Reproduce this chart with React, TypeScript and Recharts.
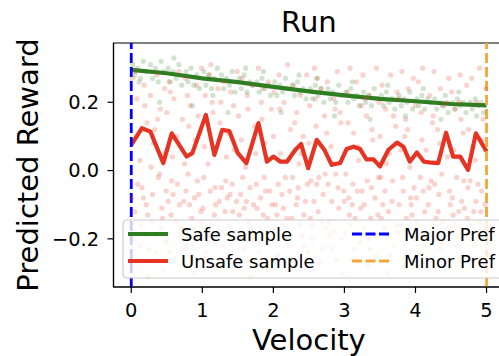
import React from 'react';
import {
  ComposedChart,
  XAxis,
  YAxis,
  Line,
  Scatter,
  ReferenceLine,
  ReferenceArea,
  Legend,
  Label,
} from 'recharts';

const FONT = '"DejaVu Sans", Verdana, sans-serif';

const TITLE = 'Run';
const X_LABEL = 'Velocity';
const Y_LABEL = 'Predicted Reward';
const SAFE_NAME = 'Safe sample';
const UNSAFE_NAME = 'Unsafe sample';
const MAJOR_NAME = 'Major Pref';
const MINOR_NAME = 'Minor Pref';

const xTicks = [0, 1, 2, 3, 4, 5];
const yTicks = [-0.2, 0, 0.2];
const xDomain = [-0.25, 5.25];
const yDomain = [-0.341, 0.3736];
const majorPrefX = 0;
const minorPrefX = 5;

const GREEN = '#2f7f22';
const RED = '#e63322';
const BLUE = '#0000ff';
const ORANGE = '#f2a73b';

// Safe sample mean line (velocity, reward)
const safeV = [0, 0.5, 1.0, 1.5, 2.0, 2.5, 3.0, 3.5, 4.0, 4.5, 5.0];
const safeR = [0.295, 0.285, 0.27, 0.259, 0.245, 0.232, 0.22, 0.21, 0.203, 0.195, 0.191];

// Unsafe sample mean line (velocity, reward)
const unsafeV = [
  0.0, 0.15, 0.27, 0.45, 0.57, 0.78, 0.86, 1.05, 1.17, 1.28, 1.38, 1.5, 1.62, 1.79, 1.91,
  2.0, 2.1, 2.19, 2.31, 2.39, 2.49, 2.61, 2.72, 2.82, 2.94, 3.03, 3.13, 3.22, 3.31, 3.41,
  3.5, 3.62, 3.74, 3.83, 3.92, 4.02, 4.12, 4.23, 4.32, 4.43, 4.53, 4.63, 4.74, 4.85, 5.0,
];
const unsafeR = [
  0.075, 0.124, 0.114, 0.022, 0.109, 0.041, 0.051, 0.163, 0.046, 0.119, 0.116, 0.051, 0.022, 0.139, 0.026,
  0.041, 0.026, 0.026, 0.061, 0.078, 0.007, 0.09, 0.06, 0.017, 0.022, 0.063, 0.07, 0.063, 0.033, 0.033,
  0.012, 0.061, 0.082, 0.07, 0.026, 0.053, 0.026, 0.023, 0.022, 0.111, 0.041, 0.041, 0.002, 0.109, 0.056,
];

// Unsafe sample scatter points [velocity, reward]
const unsafePoints: [number, number][] = [
  [0.02,0.27],[0.05,-0.12],[0.08,0.21],[0.1,-0.27],[0.12,0.03],[0.15,-0.05],[0.18,0.25],[0.2,-0.19],[0.22,0.14],[0.24,-0.31],[0.06,0.29],[0.17,-0.08],
  [0.27,0.22],[0.29,-0.15],[0.31,0.08],[0.34,-0.24],[0.36,0.28],[0.38,-0.02],[0.41,0.18],[0.43,-0.11],[0.45,-0.29],[0.47,0.24],[0.49,-0.06],[0.33,0.12],
  [0.51,-0.2],[0.53,0.26],[0.56,-0.13],[0.58,0.04],[0.6,0.21],[0.62,-0.26],[0.65,-0.04],[0.67,0.29],[0.7,-0.17],[0.72,0.15],[0.74,-0.09],[0.55,0.23],
  [0.76,0.27],[0.78,-0.22],[0.8,-0.01],[0.83,0.19],[0.85,-0.14],[0.87,-0.3],[0.9,0.09],[0.92,0.25],[0.95,-0.07],[0.97,-0.19],[0.99,0.3],[0.81,0.13],
  [1.01,-0.11],[1.04,0.22],[1.06,-0.24],[1.08,0.02],[1.1,0.28],[1.13,-0.16],[1.15,0.17],[1.18,-0.05],[1.2,-0.28],[1.22,0.24],[1.24,-0.09],[1.12,0.31],
  [1.26,0.2],[1.29,-0.18],[1.31,0.26],[1.33,-0.03],[1.36,0.11],[1.38,-0.25],[1.4,0.23],[1.43,-0.12],[1.45,0.06],[1.47,-0.2],[1.49,0.29],[1.35,-0.08],
  [1.51,0.16],[1.54,-0.07],[1.56,0.27],[1.58,-0.23],[1.61,0.01],[1.63,0.22],[1.65,-0.15],[1.68,-0.31],[1.7,0.25],[1.72,-0.1],[1.74,0.13],[1.6,-0.19],
  [1.76,-0.04],[1.79,0.3],[1.81,-0.21],[1.83,0.2],[1.86,-0.13],[1.88,0.08],[1.9,-0.27],[1.93,0.26],[1.95,-0.06],[1.97,0.18],[1.99,-0.17],[1.85,0.24],
  [2.01,0.23],[2.03,-0.1],[2.06,-0.25],[2.08,0.28],[2.1,0.05],[2.13,-0.16],[2.15,0.2],[2.17,-0.02],[2.2,0.31],[2.22,-0.22],[2.24,0.12],[2.12,-0.07],
  [2.26,-0.14],[2.28,0.25],[2.31,-0.29],[2.33,0.17],[2.35,-0.05],[2.38,0.22],[2.4,-0.19],[2.42,0.1],[2.45,-0.09],[2.47,0.28],[2.49,-0.24],[2.36,0.02],
  [2.51,0.19],[2.53,-0.03],[2.56,-0.2],[2.58,0.3],[2.6,0.13],[2.63,-0.12],[2.65,-0.27],[2.67,0.24],[2.7,-0.07],[2.72,0.16],[2.74,-0.17],[2.62,0.27],
  [2.76,0.26],[2.78,-0.15],[2.81,0.07],[2.83,-0.23],[2.85,0.21],[2.88,-0.01],[2.9,0.29],[2.92,-0.11],[2.95,0.14],[2.97,-0.3],[2.99,-0.06],[2.87,0.18],
  [3.01,-0.18],[3.04,0.23],[3.06,-0.08],[3.08,0.3],[3.1,-0.26],[3.13,0.11],[3.15,-0.14],[3.17,0.26],[3.2,0.03],[3.22,-0.21],[3.24,0.19],[3.12,-0.04],
  [3.26,0.28],[3.28,-0.1],[3.31,0.16],[3.33,-0.28],[3.35,0.22],[3.38,-0.05],[3.4,0.09],[3.42,-0.19],[3.45,0.3],[3.47,-0.13],[3.49,0.2],[3.36,-0.23],
  [3.51,-0.02],[3.53,0.25],[3.56,-0.17],[3.58,0.18],[3.6,-0.3],[3.63,0.05],[3.65,0.28],[3.67,-0.09],[3.7,-0.22],[3.72,0.13],[3.74,0.23],[3.62,-0.12],
  [3.76,0.21],[3.79,-0.16],[3.81,0.29],[3.83,-0.06],[3.86,0.15],[3.88,-0.25],[3.9,0.24],[3.92,0.01],[3.95,-0.13],[3.97,0.27],[3.99,-0.2],[3.85,0.1],
  [4.01,-0.08],[4.04,0.26],[4.06,-0.24],[4.08,0.17],[4.1,0.3],[4.13,-0.12],[4.15,0.06],[4.17,-0.29],[4.2,0.22],[4.22,-0.03],[4.24,0.14],[4.12,-0.18],
  [4.26,0.29],[4.28,-0.2],[4.31,0.12],[4.33,-0.07],[4.35,0.24],[4.38,-0.15],[4.4,0.19],[4.42,-0.27],[4.45,0.04],[4.47,0.27],[4.49,-0.1],[4.36,-0.23],
  [4.51,0.23],[4.53,-0.13],[4.56,0.18],[4.58,-0.02],[4.6,-0.26],[4.63,0.28],[4.65,-0.09],[4.67,0.11],[4.7,-0.19],[4.72,0.25],[4.74,-0.05],[4.62,0.2],
  [4.76,-0.16],[4.79,0.27],[4.81,0.07],[4.83,-0.22],[4.86,0.2],[4.88,-0.04],[4.9,0.3],[4.92,-0.12],[4.95,0.15],[4.97,-0.28],[4.99,0.24],[4.85,-0.09],
  [0.03,-0.2],[0.09,-0.04],[0.14,-0.16],[0.21,-0.1],[0.25,-0.23],
  [0.3,-0.07],[0.35,-0.19],[0.4,-0.01],[0.44,-0.14],[0.48,-0.21],
  [0.52,-0.09],[0.57,-0.03],[0.63,-0.15],[0.68,-0.1],[0.73,-0.23],
  [0.77,-0.06],[0.82,-0.1],[0.88,-0.17],[0.93,-0.03],[0.98,-0.12],
  [1.02,-0.02],[1.07,-0.19],[1.11,-0.06],[1.17,-0.13],[1.23,-0.18],
  [1.27,-0.05],[1.32,-0.12],[1.37,-0.16],[1.42,-0.04],[1.48,-0.09],
  [1.52,-0.13],[1.57,-0.02],[1.62,-0.09],[1.67,-0.05],[1.73,-0.2],
  [1.77,-0.11],[1.82,-0.08],[1.87,-0.02],[1.92,-0.14],[1.98,-0.1],
  [2.02,-0.18],[2.07,-0.04],[2.14,-0.11],[2.19,-0.14],[2.23,-0.06],
  [2.27,-0.02],[2.32,-0.1],[2.37,-0.16],[2.43,-0.13],[2.48,-0.04],
  [2.52,-0.14],[2.57,-0.09],[2.61,-0.04],[2.68,-0.15],[2.73,-0.01],
  [2.77,-0.04],[2.82,-0.09],[2.86,-0.18],[2.91,-0.05],[2.96,-0.2],
  [3.02,-0.01],[3.07,-0.13],[3.11,-0.1],[3.18,-0.06],[3.23,-0.11],
  [3.27,-0.17],[3.32,-0.03],[3.37,-0.14],[3.43,-0.08],[3.48,-0.02],
  [3.52,-0.14],[3.57,-0.06],[3.61,-0.19],[3.68,-0.03],[3.73,-0.16],
  [3.77,-0.1],[3.82,-0.02],[3.87,-0.14],[3.93,-0.08],[3.98,-0.05],
  [4.02,-0.15],[4.07,-0.02],[4.11,-0.06],[4.18,-0.1],[4.23,-0.16],
  [4.27,-0.04],[4.32,-0.12],[4.37,-0.01],[4.43,-0.17],[4.48,-0.06],
  [4.52,-0.08],[4.57,-0.16],[4.61,-0.12],[4.68,-0.03],[4.73,-0.14],
  [4.77,-0.03],[4.82,-0.12],[4.87,-0.18],[4.93,-0.06],[4.98,-0.1],
  [0.01,-0.08],[0.07,0.1],[0.13,-0.22],[0.19,0.19],[0.23,-0.13],
  [0.28,0.01],[0.32,-0.27],[0.37,0.15],[0.42,-0.17],[0.46,0.05],
  [0.5,0.17],[0.54,-0.24],[0.59,-0.07],[0.64,0.1],[0.69,-0.19],
  [0.75,0.02],[0.79,0.22],[0.84,-0.25],[0.89,-0.08],[0.94,0.16],
  [1.0,-0.15],[1.03,0.07],[1.09,-0.21],[1.14,0.2],[1.19,-0.1],
  [1.25,0.14],[1.3,-0.22],[1.34,0.04],[1.39,-0.07],[1.44,0.19],
  [1.5,-0.26],[1.55,0.09],[1.59,-0.11],[1.64,0.18],[1.69,-0.17],
  [1.75,0.05],[1.8,-0.24],[1.84,0.15],[1.89,-0.06],[1.94,-0.29],
  [2.0,0.1],[2.05,-0.13],[2.09,0.18],[2.16,-0.27],[2.21,0.03],
  [2.25,-0.19],[2.3,0.14],[2.34,-0.08],[2.39,0.05],[2.44,-0.22],
  [2.5,0.08],[2.55,-0.16],[2.59,0.21],[2.64,-0.02],[2.69,-0.23],
  [2.75,0.11],[2.79,-0.19],[2.84,0.02],[2.89,-0.26],[2.94,0.17],
  [3.0,-0.09],[3.05,0.14],[3.09,-0.16],[3.14,-0.23],[3.19,0.07],
  [3.25,-0.06],[3.29,0.21],[3.34,-0.2],[3.39,0.12],[3.44,-0.25],
  [3.5,0.1],[3.54,-0.1],[3.59,0.02],[3.64,-0.25],[3.69,0.16],
  [3.75,-0.18],[3.8,0.06],[3.84,-0.28],[3.89,0.12],[3.94,-0.1],
  [4.0,0.19],[4.05,-0.19],[4.09,0.09],[4.14,-0.27],[4.19,-0.05],
  [4.25,0.16],[4.29,-0.14],[4.34,0.08],[4.39,-0.21],[4.44,0.2],
  [4.5,-0.17],[4.54,0.06],[4.59,-0.22],[4.64,0.15],[4.69,-0.11],
  [4.75,0.12],[4.8,-0.26],[4.84,0.03],[4.89,-0.15],[4.94,0.09],
];

// Safe sample scatter points [velocity, reward]
const safePoints: [number, number][] = [
  [0.02,0.31],[0.05,0.28],[0.09,0.3],[0.13,0.27],[0.17,0.32],[0.21,0.29],[0.11,0.26],
  [0.27,0.31],[0.3,0.27],[0.34,0.3],[0.38,0.26],[0.42,0.32],[0.46,0.29],[0.4,0.2],
  [0.52,0.3],[0.55,0.26],[0.59,0.29],[0.63,0.27],[0.67,0.31],[0.71,0.25],[0.6,0.33],
  [0.77,0.29],[0.8,0.26],[0.84,0.3],[0.88,0.25],[0.92,0.28],[0.96,0.24],[0.86,0.19],
  [1.02,0.29],[1.05,0.25],[1.09,0.28],[1.13,0.24],[1.17,0.27],[1.21,0.3],[1.15,0.22],
  [1.27,0.28],[1.3,0.24],[1.34,0.27],[1.38,0.25],[1.42,0.29],[1.46,0.23],[1.36,0.17],
  [1.52,0.27],[1.55,0.24],[1.59,0.28],[1.63,0.23],[1.67,0.26],[1.71,0.25],[1.61,0.3],
  [1.77,0.26],[1.8,0.23],[1.84,0.27],[1.88,0.24],[1.92,0.25],[1.96,0.22],[1.86,0.29],
  [2.02,0.26],[2.05,0.22],[2.09,0.25],[2.13,0.23],[2.17,0.27],[2.21,0.24],[2.11,0.17],
  [2.27,0.25],[2.3,0.22],[2.34,0.26],[2.38,0.23],[2.42,0.24],[2.46,0.21],[2.36,0.28],
  [2.52,0.24],[2.55,0.21],[2.59,0.25],[2.63,0.22],[2.67,0.24],[2.71,0.2],[2.61,0.27],
  [2.77,0.24],[2.8,0.21],[2.84,0.23],[2.88,0.2],[2.92,0.25],[2.96,0.22],[2.86,0.16],
  [3.02,0.23],[3.05,0.2],[3.09,0.24],[3.13,0.21],[3.17,0.22],[3.21,0.19],[3.11,0.26],
  [3.27,0.23],[3.3,0.2],[3.34,0.22],[3.38,0.19],[3.42,0.24],[3.46,0.21],[3.36,0.15],
  [3.52,0.22],[3.55,0.19],[3.59,0.23],[3.63,0.2],[3.67,0.21],[3.71,0.18],[3.61,0.25],
  [3.77,0.22],[3.8,0.19],[3.84,0.21],[3.88,0.2],[3.92,0.23],[3.96,0.18],[3.86,0.16],
  [4.02,0.21],[4.05,0.19],[4.09,0.22],[4.13,0.18],[4.17,0.21],[4.21,0.2],[4.11,0.24],
  [4.27,0.21],[4.3,0.18],[4.34,0.2],[4.38,0.19],[4.42,0.22],[4.46,0.17],[4.36,0.15],
  [4.52,0.2],[4.55,0.18],[4.59,0.21],[4.63,0.19],[4.67,0.2],[4.71,0.17],[4.61,0.23],
  [4.77,0.2],[4.8,0.18],[4.84,0.21],[4.88,0.19],[4.92,0.2],[4.96,0.17],[4.86,0.16],
];

const safeLineData = safeV.map((v, i) => ({ v, r: safeR[i] }));
const unsafeLineData = unsafeV.map((v, i) => ({ v, r: unsafeR[i] }));
const unsafeScatter = unsafePoints.map(([v, r]) => ({ v, r }));
const safeScatter = safePoints.map(([v, r]) => ({ v, r }));

const fmtY = (v: number) => (v === 0 ? '0.0' : (v < 0 ? '\u2212' : '') + Math.abs(v).toFixed(1));

const dot = (color: string) => (p: any) => (
  <circle cx={p.cx} cy={p.cy} r={2.6} fill={color} fillOpacity={0.22} stroke="none" />
);

const LegendBox = () => (
  <svg width={400} height={64} style={{ overflow: 'visible', display: 'block' }}>
    <rect x={1} y={1} width={395} height={58} rx={4} ry={4} fill="#ffffff" fillOpacity={0.8} stroke="#cccccc" strokeWidth={1.2} />
    <line x1={6} x2={46} y1={15} y2={15} stroke={GREEN} strokeWidth={4.2} />
    <text x={59} y={15} dominantBaseline="central" fontSize={18} fontFamily={FONT} fill="#000">{SAFE_NAME}</text>
    <line x1={6} x2={46} y1={42} y2={42} stroke={RED} strokeWidth={4.2} />
    <text x={59} y={42} dominantBaseline="central" fontSize={18} fontFamily={FONT} fill="#000">{UNSAFE_NAME}</text>
    <line x1={230} x2={267} y1={15} y2={15} stroke={BLUE} strokeWidth={2.8} strokeDasharray="10 3.5" />
    <text x={282} y={15} dominantBaseline="central" fontSize={18} fontFamily={FONT} fill="#000">{MAJOR_NAME}</text>
    <line x1={230} x2={267} y1={42} y2={42} stroke={ORANGE} strokeWidth={2.8} strokeDasharray="10 3.5" />
    <text x={282} y={42} dominantBaseline="central" fontSize={18} fontFamily={FONT} fill="#000">{MINOR_NAME}</text>
  </svg>
);

export default function App() {
  return (
    <div style={{ position: 'absolute', left: 0, top: 0, width: 499, height: 356, overflow: 'hidden', background: '#fff' }}>
      <ComposedChart width={520} height={356} margin={{ top: 43, right: 15.7, bottom: 0, left: 0 }}>
        <XAxis
          type="number"
          dataKey="v"
          domain={xDomain}
          ticks={xTicks}
          allowDataOverflow
          height={69}
          tickSize={6}
          tickMargin={10}
          axisLine={{ stroke: '#000', strokeWidth: 1.2 }}
          tickLine={{ stroke: '#000', strokeWidth: 1.2 }}
          tick={{ fontSize: 19.4, fill: '#000', fontFamily: FONT }}
          label={
            <Label
              content={(p: any) => {
                const vb = p.viewBox;
                return (
                  <text x={vb.x + vb.width / 2} y={vb.y + 63} textAnchor="middle" fontSize={29} fontFamily={FONT} fill="#000">
                    {X_LABEL}
                  </text>
                );
              }}
            />
          }
        />
        <YAxis
          type="number"
          dataKey="r"
          domain={yDomain}
          ticks={yTicks}
          allowDataOverflow
          width={113.5}
          tickSize={6}
          tickMargin={8.5}
          tickFormatter={fmtY}
          axisLine={{ stroke: '#000', strokeWidth: 1.2 }}
          tickLine={{ stroke: '#000', strokeWidth: 1.2 }}
          tick={{ fontSize: 19.4, fill: '#000', fontFamily: FONT }}
          label={
            <Label
              content={(p: any) => {
                const vb = p.viewBox;
                const cx = vb.x + 38;
                const cy = vb.y + vb.height / 2;
                return (
                  <text x={cx} y={cy} transform={`rotate(-90, ${cx}, ${cy})`} textAnchor="middle" fontSize={29} fontFamily={FONT} fill="#000">
                    {Y_LABEL}
                  </text>
                );
              }}
            />
          }
        />
        <ReferenceArea
          x1={xDomain[0]}
          x2={xDomain[1]}
          y1={yDomain[0]}
          y2={yDomain[1]}
          fill="none"
          stroke="#000"
          strokeWidth={1.2}
          ifOverflow="visible"
          label={
            <Label
              content={(p: any) => {
                const vb = p.viewBox;
                return (
                  <text x={vb.x + vb.width / 2} y={vb.y - 11.3} textAnchor="middle" fontSize={29} fontFamily={FONT} fill="#000">
                    {TITLE}
                  </text>
                );
              }}
            />
          }
        />
        <Scatter data={unsafeScatter} dataKey="r" shape={dot(RED)} isAnimationActive={false} legendType="none" />
        <Scatter data={safeScatter} dataKey="r" shape={dot(GREEN)} isAnimationActive={false} legendType="none" />
        <Line data={safeLineData} dataKey="r" stroke={GREEN} strokeWidth={4.2} dot={false} strokeLinejoin="round" isAnimationActive={false} name={SAFE_NAME} />
        <Line data={unsafeLineData} dataKey="r" stroke={RED} strokeWidth={4.2} dot={false} strokeLinejoin="round" isAnimationActive={false} name={UNSAFE_NAME} />
        <ReferenceLine x={majorPrefX} stroke={BLUE} strokeWidth={2.8} strokeDasharray="10 4" />
        <ReferenceLine x={minorPrefX} stroke={ORANGE} strokeWidth={2.8} strokeDasharray="10 4" />
        <Legend
          layout="horizontal"
          verticalAlign="middle"
          align="center"
          wrapperStyle={{ left: 122, top: 219, width: 400, height: 62 }}
          content={() => <LegendBox />}
        />
      </ComposedChart>
    </div>
  );
}
